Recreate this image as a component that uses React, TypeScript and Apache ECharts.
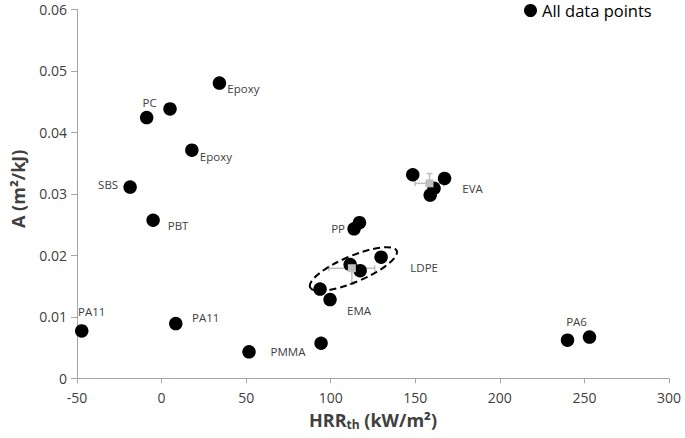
import React, { useEffect, useRef } from "react";
import * as echarts from "echarts";

// ---- data ----
const hrrValues = [-47.2, 8.4, -5.0, -18.6, -8.8, 5.0, 17.9, 34.2, 51.7, 94.3, 99.6, 93.7, 111.5, 117.4, 129.8, 113.8, 117.0, 148.5, 158.8, 161.1, 167.3, 240.0, 253.0];
const aValues = [0.0077, 0.0089, 0.0257, 0.0311, 0.0424, 0.0438, 0.0371, 0.048, 0.0043, 0.0057, 0.0128, 0.0145, 0.0185, 0.0175, 0.0197, 0.0243, 0.0253, 0.0331, 0.0298, 0.0309, 0.0325, 0.0062, 0.0067];
const pointLabels = ["PA11", "PA11", "PBT", "SBS", "PC", "", "Epoxy", "Epoxy", "PMMA", "", "EMA", "", "", "", "LDPE", "PP", "", "", "", "", "EVA", "PA6", ""];

const meanNames = ["LDPE", "EVA"];
const meanHrr = [112.5, 158.4];
const meanA = [0.0179, 0.0317];
const meanHrrErr = [13.5, 8.5];
const meanAErrLow = [0.0026, 0.0016];
const meanAErrHigh = [0.0008, 0.0016];

const ellipseCenter = [113.4, 0.01777];

const xTicks = { min: -50, max: 300, interval: 50 };
const yTicks = { min: 0, max: 0.06, interval: 0.01 };

const seriesName = "All data points";
const xAxisTitle = "{b|HRR}{s|th}{b| (kW/m²)}";
const yAxisTitle = "A (m²/kJ)";

// label offsets (style only): [dx, dy] from point centre
const labelOffsets: Record<number, [number, number]> = {
  0: [10, -19],
  1: [30, -6],
  2: [25, 5],
  3: [-22, -3],
  4: [3, -15],
  6: [24, 6],
  7: [24, 5],
  8: [39, 0],
  10: [29, 11],
  14: [43, 10],
  15: [-16, 0],
  20: [28, 10],
  21: [9, -19],
};

const FONT = "'Open Sans', 'Noto Sans', sans-serif";
const TEXT = "#404040";
const AXIS = "#a6a6a6";
const GREY = "#bfbfbf";

export default function App() {
  const ref = useRef<HTMLDivElement>(null);
  useEffect(() => {
    document.body.style.margin = "0";
    if (!ref.current) return;
    const chart = echarts.init(ref.current, undefined, { renderer: "svg" });

    const scatterData = hrrValues.map((x, i) => {
      const lbl = pointLabels[i];
      const item: any = { value: [x, aValues[i]] };
      if (lbl) {
        item.label = {
          show: true,
          formatter: lbl,
          position: "inside",
          offset: labelOffsets[i] || [0, 0],
          fontSize: 11.5,
          fontFamily: FONT,
          color: TEXT,
        };
      }
      return item;
    });

    const errData = meanHrr.map((x, i) => [x, meanA[i], meanHrrErr[i], meanAErrLow[i], meanAErrHigh[i]]);

    const option: any = {
      animation: false,
      backgroundColor: "#ffffff",
      textStyle: { fontFamily: FONT },
      grid: { left: 77, right: 16, top: 9.3, bottom: 59.7, containLabel: false },
      legend: {
        data: [{ name: seriesName, icon: "circle" }],
        left: 519,
        top: -3,
        itemWidth: 13,
        itemHeight: 13,
        itemGap: 5,
        textStyle: { fontSize: 16.5, color: "#000", fontFamily: FONT },
      },
      xAxis: {
        type: "value",
        min: xTicks.min,
        max: xTicks.max,
        interval: xTicks.interval,
        splitLine: { show: false },
        axisLine: { show: true, onZero: false, lineStyle: { color: AXIS, width: 1 } },
        axisTick: { show: true, length: 5, lineStyle: { color: AXIS } },
        axisLabel: { fontSize: 14, color: TEXT, margin: 12, fontFamily: FONT },
        name: xAxisTitle,
        nameLocation: "middle",
        nameGap: 30,
        nameTextStyle: {
          rich: {
            b: { fontSize: 18, fontWeight: "bold", color: TEXT, fontFamily: FONT, lineHeight: 24 },
            s: { fontSize: 12, fontWeight: "bold", color: TEXT, fontFamily: FONT, lineHeight: 24, padding: [9, 0, 0, 0] },
          },
        },
      },
      yAxis: {
        type: "value",
        min: yTicks.min,
        max: yTicks.max,
        interval: yTicks.interval,
        splitLine: { show: false },
        axisLine: { show: true, onZero: false, lineStyle: { color: AXIS, width: 1 } },
        axisTick: { show: true, length: 6, lineStyle: { color: AXIS } },
        axisLabel: { fontSize: 14, color: TEXT, margin: 10, fontFamily: FONT },
        name: yAxisTitle,
        nameLocation: "middle",
        nameGap: 50,
        nameTextStyle: { fontSize: 18, fontWeight: "bold", color: TEXT, fontFamily: FONT, padding: [0, 0, 0, 10] },
      },
      series: [
        {
          name: "errorbars",
          type: "custom",
          z: 1,
          silent: true,
          data: errData,
          renderItem: (params: any, api: any) => {
            const x = api.value(0);
            const y = api.value(1);
            const ex = api.value(2);
            const eyl = api.value(3);
            const eyh = api.value(4);
            const c = api.coord([x, y]);
            const l = api.coord([x - ex, y]);
            const r = api.coord([x + ex, y]);
            const b = api.coord([x, y - eyl]);
            const t = api.coord([x, y + eyh]);
            const cap = 3;
            const st = { stroke: GREY, lineWidth: 1.5 };
            const line = (x1: number, y1: number, x2: number, y2: number) => ({
              type: "line",
              shape: { x1, y1, x2, y2 },
              style: st,
            });
            return {
              type: "group",
              children: [
                line(l[0], c[1], r[0], c[1]),
                line(l[0], c[1] - cap, l[0], c[1] + cap),
                line(r[0], c[1] - cap, r[0], c[1] + cap),
                line(c[0], b[1], c[0], t[1]),
                line(c[0] - cap, b[1], c[0] + cap, b[1]),
                line(c[0] - cap, t[1], c[0] + cap, t[1]),
              ],
            };
          },
        },
        {
          name: seriesName,
          type: "scatter",
          z: 3,
          symbol: "circle",
          symbolSize: 13.5,
          itemStyle: { color: "#000000", opacity: 1 },
          data: scatterData,
        },
        {
          name: "means",
          type: "scatter",
          z: 4,
          symbol: "rect",
          symbolSize: 8,
          itemStyle: { color: GREY, opacity: 1 },
          data: meanHrr.map((x, i) => ({ name: meanNames[i], value: [x, meanA[i]] })),
        },
        {
          name: "ldpeEllipse",
          type: "custom",
          z: 5,
          silent: true,
          data: [ellipseCenter],
          renderItem: (params: any, api: any) => {
            const c = api.coord([api.value(0), api.value(1)]);
            return {
              type: "ellipse",
              x: c[0],
              y: c[1],
              rotation: 0.4,
              shape: { cx: 0, cy: 0, rx: 47, ry: 13 },
              style: { fill: "none", stroke: "#000", lineWidth: 2, lineDash: [7, 4] },
            };
          },
        },
      ],
    };
    chart.setOption(option);
    return () => chart.dispose();
  }, []);
  return <div ref={ref} style={{ width: 685, height: 438 }} />;
}
